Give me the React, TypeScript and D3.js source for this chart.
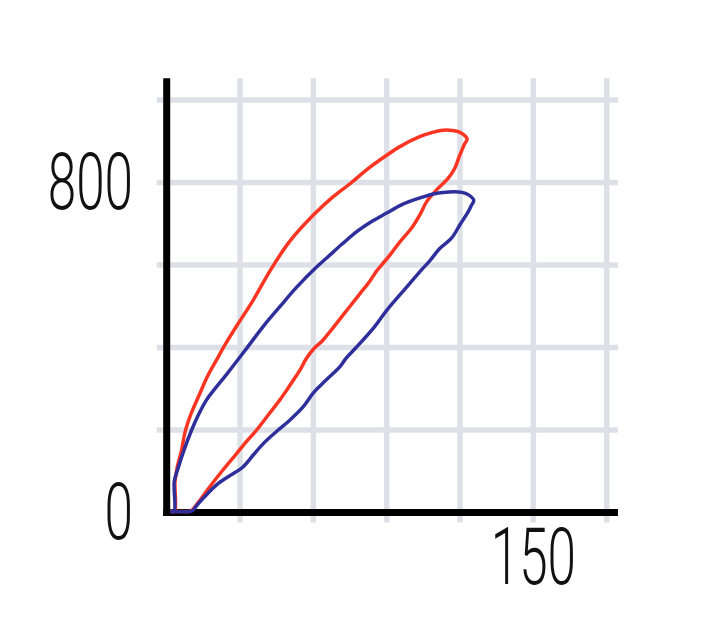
import React from "react";
import * as d3 from "d3";

// loop traces: [x, y]
const redLoop: [number, number][] = [
  [1.5, 3], [3.2, 3], [3.4, 75], [4.5, 115], [6.1, 151], [7.5, 195], [10, 240],
  [13.6, 289], [16.5, 328], [20.4, 370], [24, 408], [28.6, 452], [35.4, 515],
  [42.2, 585], [50, 655], [60, 721], [68, 765], [75.6, 800], [82, 832], [90, 866],
  [95.4, 887], [103.5, 911], [108, 920], [112, 926], [117, 926], [120.5, 920],
  [122.9, 905], [121.8, 893], [119.5, 860], [117.8, 834], [115.1, 810],
  [110.4, 782], [106.3, 753], [103.5, 721], [100.1, 689], [95.4, 656],
  [91.3, 624], [87.9, 600], [85.8, 585], [83, 560], [79, 530], [75, 500],
  [71, 470], [67, 440], [63.5, 415], [60.6, 400], [57, 372], [54.5, 345],
  [51.5, 318], [49, 296], [46.3, 273], [42, 240], [36.8, 200], [32.5, 171],
  [28.6, 143], [23, 103], [17.7, 63], [13, 25], [10.2, 5], [9.5, 3], [1.5, 3],
];

const blueLoop: [number, number][] = [
  [1.5, 3], [3.0, 3], [3.1, 75], [4.8, 110], [7, 150], [10.2, 200], [13, 237],
  [16.3, 273], [20, 302], [24.5, 335], [32.7, 398], [40, 455], [46.3, 499],
  [53, 545], [61.3, 595], [66, 620], [72, 652], [78, 682], [84, 706], [90, 726],
  [95.4, 744], [99.4, 754], [104.9, 765], [109, 772], [113, 776], [120.8, 776],
  [123.5, 770], [125.6, 757], [124.5, 743], [123.3, 729], [119.9, 697],
  [116.5, 665], [111.7, 640], [107.6, 610], [104.5, 590], [99.4, 555], [95, 525],
  [90, 490], [85, 450], [77.5, 400], [73.5, 375], [70.8, 353], [65, 320],
  [60, 290], [55.8, 256], [50, 222], [45.6, 200], [40, 170], [35.5, 140],
  [31.3, 111], [26, 90], [20.4, 67], [15, 35], [12, 15], [10.9, 6], [10, 3],
  [1.5, 3],
];

const xGrid = [30, 60, 90, 120, 150, 180];
const yGrid = [200, 400, 600, 800, 1000];
const yLabels = [0, 800];
const xLabels = [150];

const W = 712;
const H = 643;

export default function App() {
  const x = d3.scaleLinear().domain([0, 180]).range([166.7, 606.7]);
  const y = d3.scaleLinear().domain([0, 1000]).range([512.5, 100]);

  const line = d3
    .line<[number, number]>()
    .x((d) => x(d[0]))
    .y((d) => y(d[1]))
    .curve(d3.curveCatmullRom.alpha(0.5));

  const gridColor = "#dde0e6";
  const fontFamily = "Roboto, 'Liberation Sans Narrow', sans-serif";

  return (
    <svg
      width={W}
      height={H}
      style={{ position: "absolute", left: 0, top: 0, background: "#fff" }}
    >
      {/* grid */}
      {xGrid.map((v) => (
        <line
          key={"vx" + v}
          x1={x(v)}
          x2={x(v)}
          y1={y(1053)}
          y2={y(0) + 10}
          stroke={gridColor}
          strokeWidth={5.5}
        />
      ))}
      {yGrid.map((v) => (
        <line
          key={"hy" + v}
          x1={x(0) - 10}
          x2={x(184.6)}
          y1={y(v)}
          y2={y(v)}
          stroke={gridColor}
          strokeWidth={5.5}
        />
      ))}

      {/* axes */}
      <line x1={x(0)} x2={x(0)} y1={y(1053)} y2={y(0) + 3.5} stroke="#000" strokeWidth={7} />
      <line x1={x(0) - 3.5} x2={x(184.6)} y1={y(0)} y2={y(0)} stroke="#000" strokeWidth={7} />

      {/* loops */}
      <path d={line(redLoop) ?? ""} fill="none" stroke="#fb3522" strokeWidth={3.5} strokeLinejoin="round" />
      <path d={line(blueLoop) ?? ""} fill="none" stroke="#2f2f9c" strokeWidth={3.5} strokeLinejoin="round" />

      {/* tick labels */}
      {yLabels.map((v) => (
        <g key={"yl" + v} transform={`translate(133, ${y(v) + 26}) scale(0.64, 1)`}>
          <text textAnchor="end" fontFamily={fontFamily} fontWeight={300} fontSize={80} fill="#111">
            {v}
          </text>
        </g>
      ))}
      {xLabels.map((v) => (
        <g key={"xl" + v} transform={`translate(${x(v)}, 584) scale(0.64, 1)`}>
          <text textAnchor="middle" fontFamily={fontFamily} fontWeight={300} fontSize={80} fill="#111">
            {v}
          </text>
        </g>
      ))}
    </svg>
  );
}
